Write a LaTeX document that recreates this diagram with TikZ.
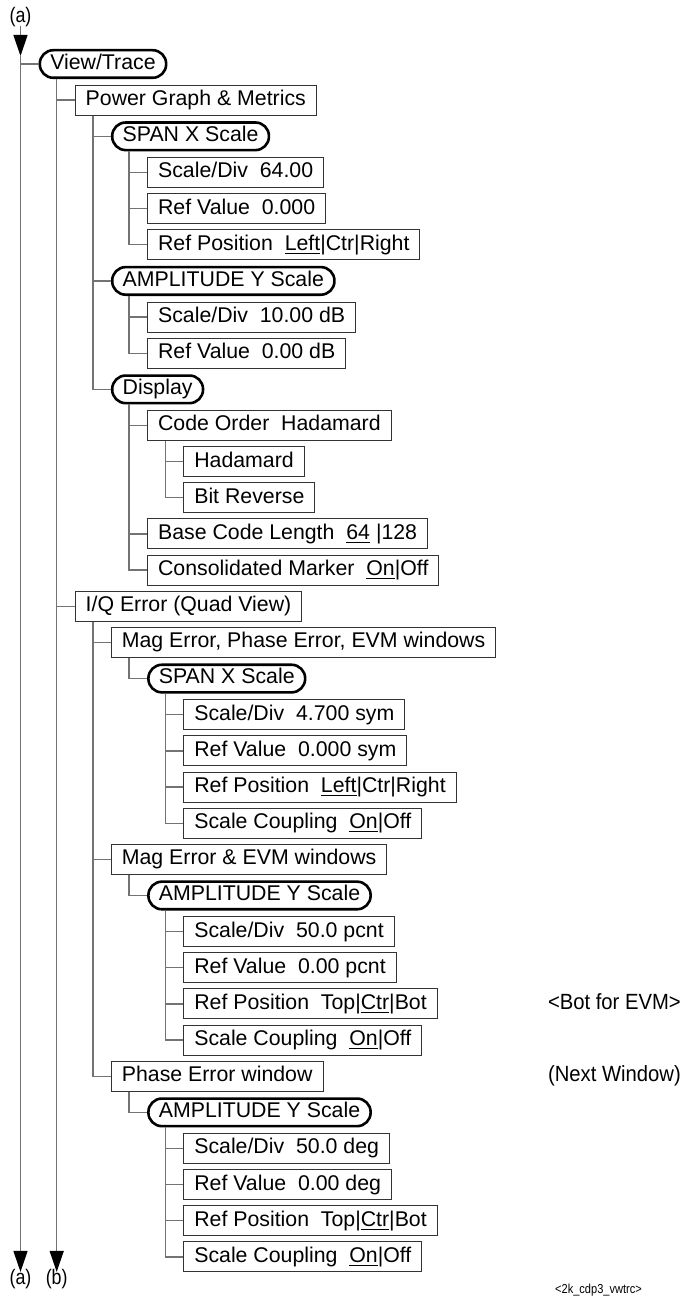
\documentclass[tikz,border=0pt]{standalone}
\usepackage{fontspec}
\setmainfont{Liberation Sans}
\newfontfamily\narrowfont{Liberation Sans}[FakeStretch=0.85]
\newfontfamily\notefont{Liberation Sans}[FakeStretch=0.92]
\usetikzlibrary{arrows.meta}
\newcommand\opt[1]{\leavevmode\vtop{\hbox{#1}\kern2.3pt\hrule height 1.1pt}}

\begin{document}
\begin{tikzpicture}[x=1pt, y=-1pt,
  every node/.style={font=\fontsize{21.3pt}{25pt}\selectfont, text height=15.3pt, text depth=4.5pt,
    inner xsep=10.5pt, inner ysep=5.1pt, anchor=west},
  menu/.style={draw=black!80, line width=1pt},
  key/.style={draw=black, line width=2.6pt, rounded corners=13.5pt, inner ysep=3.9pt},
  conn/.style={draw=black!55, line width=1.3pt},
  arr/.style={-{Triangle[length=21pt, width=14pt, black]}},
  lab/.style={font=\narrowfont\fontsize{21pt}{24pt}\selectfont, inner sep=0pt, anchor=center},
  note/.style={font=\notefont\fontsize{22pt}{25pt}\selectfont, inner sep=0pt, anchor=east}]
  \useasboundingbox (0,0) rectangle (683,1303);
  % menu rows: row/level/style/text
  \foreach \r/\k/\s/\t in {0/0/key/{View/Trace},
      1/1/menu/{Power Graph \& Metrics},
      2/2/key/{SPAN X Scale},
      3/3/menu/{Scale/Div~~64.00},
      4/3/menu/{Ref Value~~0.000},
      5/3/menu/{Ref Position~~\opt{Left}|Ctr|Right},
      6/2/key/{AMPLITUDE Y Scale},
      7/3/menu/{Scale/Div~~10.00 dB},
      8/3/menu/{Ref Value~~0.00 dB},
      9/2/key/{Display},
      10/3/menu/{Code Order~~Hadamard},
      11/4/menu/{Hadamard},
      12/4/menu/{Bit Reverse},
      13/3/menu/{Base Code Length~~\opt{64}~|128},
      14/3/menu/{Consolidated Marker~~\opt{On}|Off},
      15/1/menu/{I/Q Error (Quad View)},
      16/2/menu/{Mag Error, Phase Error, EVM windows},
      17/3/key/{SPAN X Scale},
      18/4/menu/{Scale/Div~~4.700 sym},
      19/4/menu/{Ref Value~~0.000 sym},
      20/4/menu/{Ref Position~~\opt{Left}|Ctr|Right},
      21/4/menu/{Scale Coupling~~\opt{On}|Off},
      22/2/menu/{Mag Error \& EVM windows},
      23/3/key/{AMPLITUDE Y Scale},
      24/4/menu/{Scale/Div~~50.0 pcnt},
      25/4/menu/{Ref Value~~0.00 pcnt},
      26/4/menu/{Ref Position~~Top|\opt{Ctr}|Bot},
      27/4/menu/{Scale Coupling~~\opt{On}|Off},
      28/2/menu/{Phase Error window},
      29/3/key/{AMPLITUDE Y Scale},
      30/4/menu/{Scale/Div~~50.0 deg},
      31/4/menu/{Ref Value~~0.00 deg},
      32/4/menu/{Ref Position~~Top|\opt{Ctr}|Bot},
      33/4/menu/{Scale Coupling~~\opt{On}|Off}} {
    \node[\s] (n\r) at ({38.5+36.2*\k}, {64+36.15*\r}) {\t};
  }
  % tree connectors
  \foreach \p/\c in {1/2,1/6,1/9,2/3,2/4,2/5,6/7,6/8,9/10,9/13,9/14,10/11,10/12,
      0/15,15/16,15/22,15/28,16/17,17/18,17/19,17/20,17/21,22/23,
      23/24,23/25,23/26,23/27,28/29,29/30,29/31,29/32,29/33} {
    \draw[conn] ([xshift=18.2pt]n\p.south west) |- (n\c.west);
  }
  % continuation lines (a) and (b)
  \node[lab] (atop) at (20.5,17) {(a)};
  \node[lab] (abot) at (20.5,1279) {(a)};
  \node[lab] (bbot) at (56.7,1279) {(b)};
  \coordinate (amid) at (20.5,56);
  \draw[conn, arr] (atop.south) ++(0,-1) -- (amid);
  \draw[conn, arr] (amid) -- ([yshift=-3pt]abot.north);
  \draw[conn, arr] ([xshift=18.2pt]n0.south west) -- ([yshift=-3pt]bbot.north);
  \draw[conn] (n0.west -| amid) -- (n0.west);
  \draw[conn] (n1.west -| bbot) -- (n1.west);
  % side notes
  \node[note] (botevm) at (681,{64+36.15*26}) {<Bot for EVM>};
  \node[note] (nextwin) at (681,{64+36.15*28}) {(Next Window)};
  \node[note, font=\narrowfont\fontsize{13pt}{15pt}\selectfont, text height=9pt, text depth=2.7pt]
    (figid) at (642,1290) {<2k\_cdp3\_vwtrc>};
\end{tikzpicture}
\end{document}
